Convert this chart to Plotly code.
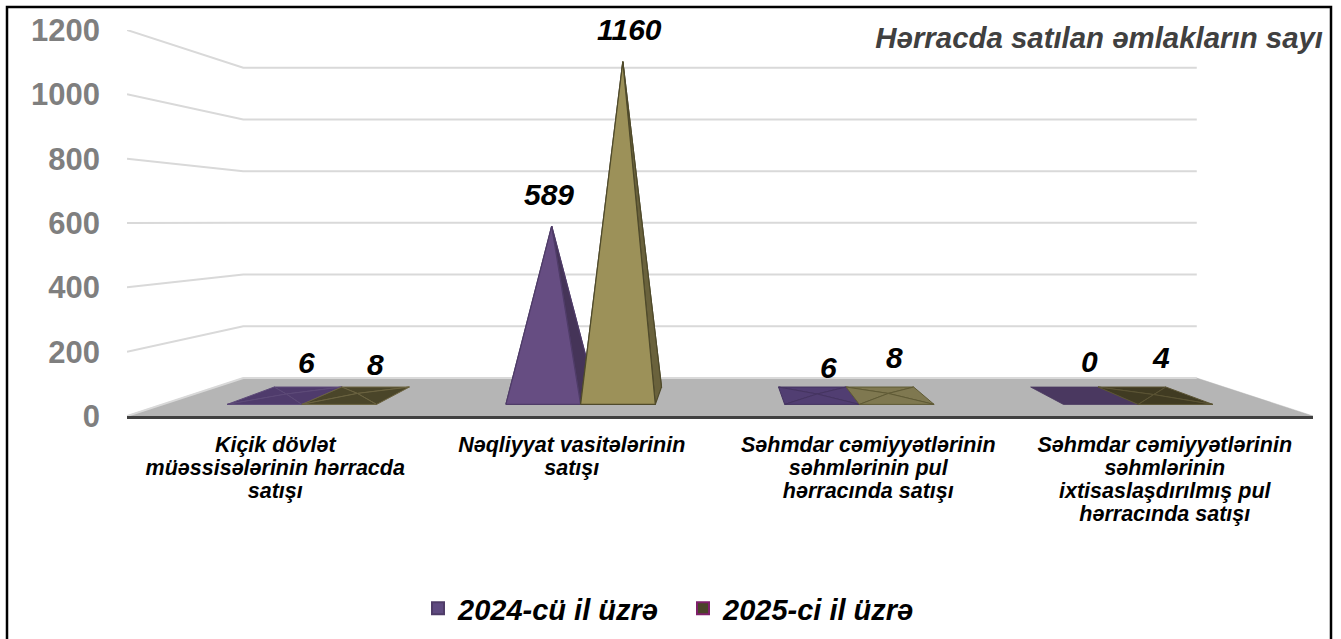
import plotly.graph_objects as go

categories = [
    ["Kiçik dövlət", "müəssisələrinin hərracda", "satışı"],
    ["Nəqliyyat vasitələrinin", "satışı"],
    ["Səhmdar cəmiyyətlərinin", "səhmlərinin pul", "hərracında satışı"],
    ["Səhmdar cəmiyyətlərinin", "səhmlərinin", "ixtisaslaşdırılmış pul", "hərracında satışı"],
]
series_2024 = [6, 589, 6, 0]
series_2025 = [8, 1160, 8, 4]
y_ticks = [0, 200, 400, 600, 800, 1000, 1200]
series_names = ["2024-cü il üzrə", "2025-ci il üzrə"]
title_text = "Hərracda satılan əmlakların sayı"

# styling
W, H = 1341, 639
L, R, T, B = 127, 1313, 30, 416
FONT = "Liberation Sans, Arial, sans-serif"
fills_2024 = ["#4F3B6C", "#664D82", "#513E72", "#4A3860"]
fills_2025 = ["#4A4529", "#9C9159", "#7F7850", "#403B22"]
edges_2024 = ["#5D4A78", "#4F3C68", "#453461", "#4A3860"]
edges_2025 = ["#6B6340", "#4F4A2B", "#5F5A35", "#5B5434"]
label_shift_2024 = [(20, 32), (-3, 32), (11, 27), (7, 34)]
label_shift_2025 = [(18, 29), (7, 32), (6, 36), (7, 37)]

K = 0.196            # perspective shrink from front plane to back wall
RISE = 118           # height of floor's back edge, in front-plane axis units
D_FRONT, D_BACK = 0.305, 0.763
HALF = 0.268
FLAT_BELOW = 50      # pyramids this low read as flat, evenly lit shapes


def proj(u, v, d):
    s = 1 - K * d
    return 2 + (u - 2) * s, v * s + RISE * d


def shade(hex_color, f):
    r, g, b = (int(hex_color[i:i + 2], 16) for i in (1, 3, 5))
    return "#%02X%02X%02X" % (int(r * f), int(g * f), int(b * f))


fig = go.Figure()


def poly(points, fill, line, width=1.2):
    xs, ys = zip(*points)
    fig.add_trace(go.Scatter(
        x=list(xs) + [xs[0]], y=list(ys) + [ys[0]], mode="lines", fill="toself",
        fillcolor=fill, line=dict(color=line, width=width),
        hoverinfo="skip", showlegend=False))


# floor
poly([proj(0, 0, 0), proj(4, 0, 0), proj(4, 0, 1), proj(0, 0, 1)], "#B5B5B5", "#B5B5B5", 0.5)

# wall gridlines
for t in y_ticks:
    pts = [proj(0, t, 0), proj(0, t, 1), proj(4, t, 1)]
    fig.add_trace(go.Scatter(
        x=[p[0] for p in pts], y=[p[1] for p in pts], mode="lines",
        line=dict(color="#D9D9D9", width=2), hoverinfo="skip", showlegend=False))


def pyramid(u0, u1, value, fill, edge):
    fl, fr = proj(u0, 0, D_FRONT), proj(u1, 0, D_FRONT)
    bl, br = proj(u0, 0, D_BACK), proj(u1, 0, D_BACK)
    apex = proj((u0 + u1) / 2, value, (D_FRONT + D_BACK) / 2)
    if value == 0:
        poly([fl, fr, br, bl], fill, edge, 0.8)
        return apex
    flat = value < FLAT_BELOW
    side = fill if flat else shade(fill, 0.68)
    back = fill if flat else shade(fill, 0.8)
    width = 1.0 if flat else 1.2
    poly([bl, br, apex], back, edge, width)
    poly([bl, fl, apex], side, edge, width)
    poly([fr, br, apex], side, edge, width)
    poly([fl, fr, apex], fill, edge, width)
    return apex


annotations = []
centres = [i + 0.5 for i in range(len(categories))]
for i, c in enumerate(centres):
    for values, u0, u1, fills, edges, shifts in (
        (series_2024, c - HALF, c, fills_2024, edges_2024, label_shift_2024),
        (series_2025, c, c + HALF, fills_2025, edges_2025, label_shift_2025),
    ):
        apex = pyramid(u0, u1, values[i], fills[i], edges[i])
        annotations.append(dict(
            x=apex[0], y=apex[1], text=str(values[i]), showarrow=False,
            xshift=shifts[i][0], yshift=shifts[i][1],
            font=dict(family=FONT, size=30, color="#000000", weight="bold", style="italic")))

# legend entries
for name, fill, edge in zip(series_names, ["#5F4A80", "#4A4329"], ["#4F3C68", "#7F1F6A"]):
    fig.add_trace(go.Scatter(
        x=[None], y=[None], mode="markers", name=name,
        marker=dict(symbol="square", size=14, color=fill, line=dict(color=edge, width=1.5))))


def px(x):
    return (x - L) / (R - L)


def py(y):
    return (B - y) / (B - T)


shapes = [dict(type="rect", xref="paper", yref="paper", x0=px(7), x1=px(1331), y0=py(7), y1=py(650),
               line=dict(color="#000000", width=2.5), fillcolor="rgba(0,0,0,0)", layer="above")]

# tick text is set large inside a span; the smaller outer size sets the tight line spacing
tick_text = ["<br>".join("<span style='font-size:21.5px'>%s</span>" % line for line in lines)
             for lines in categories]

fig.update_layout(
    width=W, height=H, autosize=False,
    margin=dict(l=L, r=W - R, t=T, b=H - B, pad=0),
    paper_bgcolor="#FFFFFF", plot_bgcolor="#FFFFFF",
    font=dict(family=FONT),
    title=dict(text=title_text, x=1323 / W, xanchor="right", xref="container",
               y=1 - 38 / H, yanchor="middle", yref="container",
               font=dict(family=FONT, size=29.4, color="#404040", weight="bold", style="italic")),
    xaxis=dict(range=[0, 4], tickmode="array", tickvals=centres, ticktext=tick_text,
               showgrid=False, zeroline=False, showline=True, linecolor="#404040", linewidth=3,
               ticks="", ticklabelstandoff=12,
               tickfont=dict(family=FONT, size=17.7, color="#000000", weight="bold", style="italic")),
    yaxis=dict(range=[0, 1200], tickmode="array", tickvals=y_ticks,
               showgrid=False, zeroline=False, showline=False,
               ticks="", ticklabelstandoff=26,
               tickfont=dict(family=FONT, size=31, color="#7F7F7F", weight="bold")),
    legend=dict(orientation="h", x=418 / W, xref="container", xanchor="left",
                y=(H - 634) / H, yref="container", yanchor="bottom",
                entrywidth=220, entrywidthmode="pixels", itemsizing="constant",
                font=dict(family=FONT, size=29, color="#000000", weight="bold", style="italic"),
                bgcolor="rgba(0,0,0,0)"),
    annotations=annotations,
    shapes=shapes,
)
for tr in fig.data:
    tr.cliponaxis = False

fig.write_html("out.html", config={"displayModeBar": False},
               post_script="document.body.style.margin='0';")
